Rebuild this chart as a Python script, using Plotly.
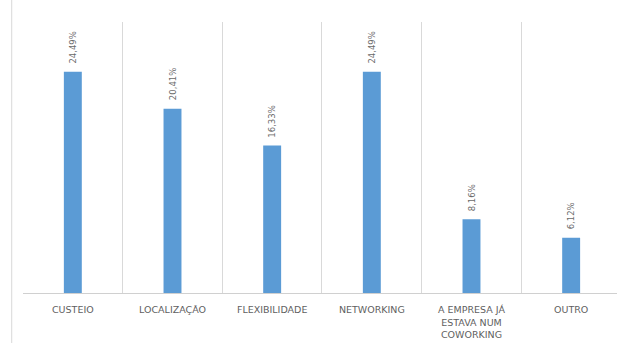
import plotly.graph_objects as go

categories = ["CUSTEIO", "LOCALIZAÇÃO", "FLEXIBILIDADE", "NETWORKING",
              "A EMPRESA JÁ<br>ESTAVA NUM<br>COWORKING", "OUTRO"]
values = [24.49, 20.41, 16.33, 24.49, 8.16, 6.12]
labels = ["24,49%", "20,41%", "16,33%", "24,49%", "8,16%", "6,12%"]

fig = go.Figure(go.Bar(
    x=categories, y=values,
    marker=dict(color="#5b9bd5", line=dict(width=0)),
    width=0.18,
))

annotations = [
    dict(x=c, y=v, text=t, xref="x", yref="y", showarrow=False,
         textangle=-90, xanchor="center", yanchor="bottom", yshift=6,
         font=dict(family="DejaVu Sans", size=8.5, color="#6a6a6a"))
    for c, v, t in zip(categories, values, labels)
]

fig.update_layout(
    width=617, height=343,
    margin=dict(l=23, r=0, t=22, b=50),
    paper_bgcolor="white", plot_bgcolor="white",
    showlegend=False,
    annotations=annotations,
    xaxis=dict(
        type="category", range=[-0.5, 5.46],
        tickson="boundaries", showgrid=True, gridcolor="#d9d9d9", gridwidth=1,
        showline=True, linecolor="#d0d0d0", linewidth=1,
        ticks="", ticklabelstandoff=8,
        tickangle=0,
        tickfont=dict(family="DejaVu Sans", size=9.5, color="#5f5f5f"),
    ),
    yaxis=dict(range=[0, 30], visible=False, showgrid=False, zeroline=False),
    shapes=[dict(type="line", xref="paper", yref="paper",
                 x0=-0.019, x1=-0.019, y0=-0.2, y1=1.1,
                 line=dict(color="#d9d9d9", width=1))],
)

fig.write_html("out.html")
